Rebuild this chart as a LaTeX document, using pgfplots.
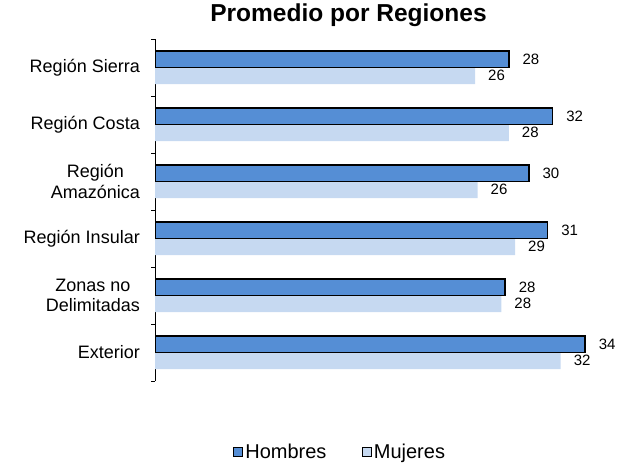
\documentclass[border=0pt]{standalone}
\usepackage{fontspec}
\setmainfont{Liberation Sans}
\usepackage{pgfplots}
\pgfplotsset{compat=1.18}
\definecolor{hom}{RGB}{85,142,213}
\definecolor{muj}{RGB}{198,217,241}
\begin{document}
\begin{tikzpicture}
\useasboundingbox (0,0) rectangle (621bp,464bp);
\begin{axis}[
  at={(155bp,83bp)}, anchor=south west,
  scale only axis, width=450bp, height=342bp,
  xmin=0, xmax=36, ymin=-0.5, ymax=5.5,
  axis x line=none, axis y line*=left,
  axis line style={black, line width=0.9bp},
  /pgf/number format/assume math mode=true,
  ytick={0,1,2,3,4,5},
  yticklabels={Exterior, {Zonas no\\Delimitadas}, Región Insular, {Región\\Amazónica}, Región Costa, Región Sierra},
  major tick length=0pt,
  minor ytick={-0.5,0.5,1.5,2.5,3.5,4.5,5.5},
  minor tick length=4bp,
  tick align=outside,
  minor tick style={black, line width=0.9bp},
  yticklabel style={align=center, font=\fontsize{18bp}{20.5bp}\selectfont, inner sep=0pt, xshift=-15bp},
  xbar, bar width=16.5bp,
  nodes near coords={\pgfmathprintnumber[fixed,precision=0]{\pgfplotspointmeta}},
  nodes near coords style={anchor=west, inner sep=0pt, xshift=13bp, font=\fontsize{15bp}{17bp}\selectfont, black},
  title={\bfseries Promedio por Regiones},
  title style={at={(axis description cs:0.43,1.0342)}, anchor=base, inner sep=0pt, font=\fontsize{24.5bp}{28bp}\selectfont},
  legend style={at={(axis description cs:0.411,-0.2076)}, anchor=center, draw=none, font=\fontsize{20bp}{22bp}\selectfont, legend columns=2, /tikz/every even column/.append style={column sep=34bp}},
  legend image code/.code={\draw[#1] (0bp,-4.5bp) rectangle (9bp,4.5bp);},
]
\addlegendimage{fill=hom, draw=black, line width=1.5bp}
\addlegendentry{Hombres}
\addlegendimage{fill=muj, draw=none}
\addlegendentry{Mujeres}
\addplot[fill=muj, draw=none, bar shift=-8.25bp, forget plot] coordinates {
(25.6,5) (28.3,4) (25.8,3) (28.8,2) (27.7,1) (32.45,0)};
\addplot[fill=hom, draw=black, line width=1.5bp, bar shift=8.25bp, forget plot] coordinates {
(28.3,5) (31.8,4) (29.9,3) (31.4,2) (28.0,1) (34.4,0)};
\end{axis}
\end{tikzpicture}
\end{document}
